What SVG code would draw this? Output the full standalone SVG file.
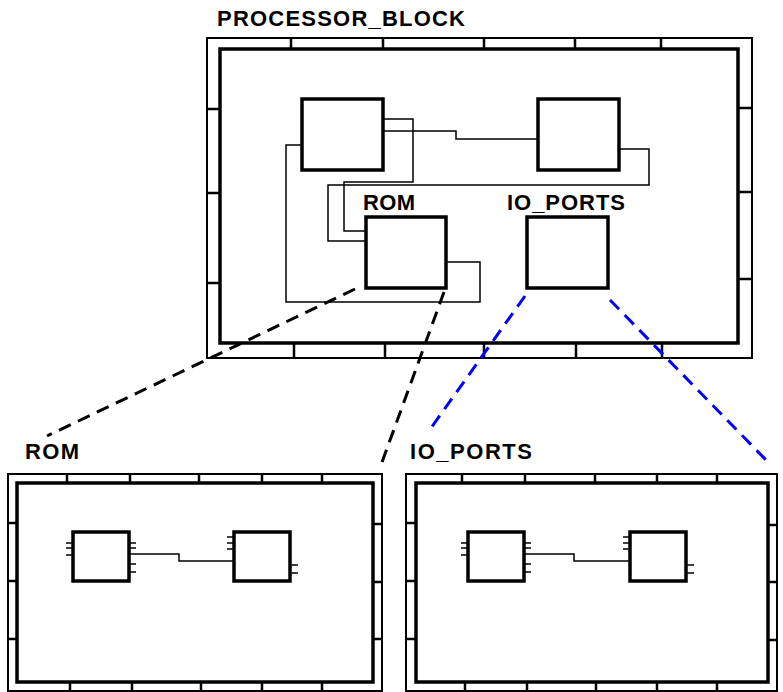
<svg xmlns="http://www.w3.org/2000/svg" width="783" height="692" viewBox="0 0 783 692">
<style>
.bg{fill:#fff}
.outer{fill:none;stroke:#000;stroke-width:2}
.inner{fill:none;stroke:#000;stroke-width:3.5}
.tick{stroke:#000;stroke-width:2.5}
.node{fill:#fff;stroke:#000;stroke-width:3.5}
.wire{fill:none;stroke:#000;stroke-width:1.5}
.stub{stroke:#000;stroke-width:1.5}
.lbl{font-family:"Liberation Sans",Arial,sans-serif;font-weight:bold;font-size:22px;fill:#000}
.dk{fill:none;stroke:#000;stroke-width:3;stroke-dasharray:13 8}
.db{fill:none;stroke:#0000ff;stroke-width:3;stroke-dasharray:13 8}
</style>
<rect class="bg" x="0" y="0" width="783" height="692"/>

<g id="processor_block">
  <text class="lbl" x="217" y="26" textLength="248" lengthAdjust="spacing">PROCESSOR_BLOCK</text>
  <rect class="outer" x="207" y="38" width="545" height="320"/>
  <rect class="inner" x="220" y="49" width="518" height="294"/>
  <path class="tick" d="M291,38V49M383,38V49M484,38V49M575,38V49M661,38V49M294,343V358M385,343V358M484,343V358M576,343V358M662,343V358M207,109H220M207,193H220M207,283H220M738,108H752M738,192H752M738,279H752"/>
</g>

<g id="internal_wires">
  <path class="wire" d="M383,119H413V182H344V231H366"/>
  <path class="wire" d="M383,131H456V139H538"/>
  <path class="wire" d="M619,149H649V185H328V241H366"/>
  <path class="wire" d="M302,145H286V302H480V262H446"/>
</g>

<g id="node_a"><rect class="node" x="302" y="99" width="81" height="71"/></g>
<g id="node_b"><rect class="node" x="538" y="99" width="81" height="71"/></g>
<g id="rom_node">
  <text class="lbl" x="363" y="210" textLength="52" lengthAdjust="spacing">ROM</text>
  <rect class="node" x="366" y="217" width="80" height="71"/>
</g>
<g id="io_ports_node">
  <text class="lbl" x="507" y="210" textLength="118" lengthAdjust="spacing">IO_PORTS</text>
  <rect class="node" x="527" y="217" width="81" height="71"/>
</g>

<g id="expansion_lines">
  <path class="dk" d="M355,289L47,436"/>
  <path class="dk" d="M444,292L381,465"/>
  <path class="db" d="M525,296L431,428"/>
  <path class="db" d="M610,300L768,462"/>
</g>

<g id="rom_block">
  <text class="lbl" x="25" y="459" textLength="54" lengthAdjust="spacing">ROM</text>
  <rect class="outer" x="8" y="474" width="374" height="217"/>
  <rect class="inner" x="17" y="483" width="356" height="199"/>
  <path class="tick" d="M67,474V483M130,474V483M199,474V483M262,474V483M322,474V483M70,682V691M132,682V691M201,682V691M262,682V691M322,682V691M8,523H17M8,581H17M8,639H17M373,524H382M373,582H382M373,639H382"/>
  <path class="stub" d="M66,543H73M66,548H73M66,555H73M129,543H136M129,548H136M129,564H136M129,572H136M227,537H234M227,543H234M227,549H234M290,565H298M290,573H298"/>
  <path class="wire" d="M129,554H179V561H234"/>
  <rect class="node" x="73" y="532" width="56" height="49"/>
  <rect class="node" x="234" y="532" width="56" height="49"/>
</g>

<g id="io_ports_block">
  <text class="lbl" x="410" y="459" textLength="122" lengthAdjust="spacing">IO_PORTS</text>
  <rect class="outer" x="406" y="474" width="371" height="217"/>
  <rect class="inner" x="416" y="483" width="352" height="199"/>
  <path class="tick" d="M462,474V483M525,474V483M595,474V483M657,474V483M717,474V483M465,682V691M527,682V691M596,682V691M657,682V691M717,682V691M406,523H416M406,581H416M406,639H416M768,525H777M768,582H777M768,640H777"/>
  <path class="stub" d="M461,543H468M461,548H468M461,555H468M524,543H531M524,548H531M524,564H531M524,572H531M623,537H630M623,543H630M623,549H630M686,565H694M686,573H694"/>
  <path class="wire" d="M524,554H574V561H630"/>
  <rect class="node" x="468" y="532" width="56" height="49"/>
  <rect class="node" x="630" y="532" width="56" height="49"/>
</g>
</svg>
